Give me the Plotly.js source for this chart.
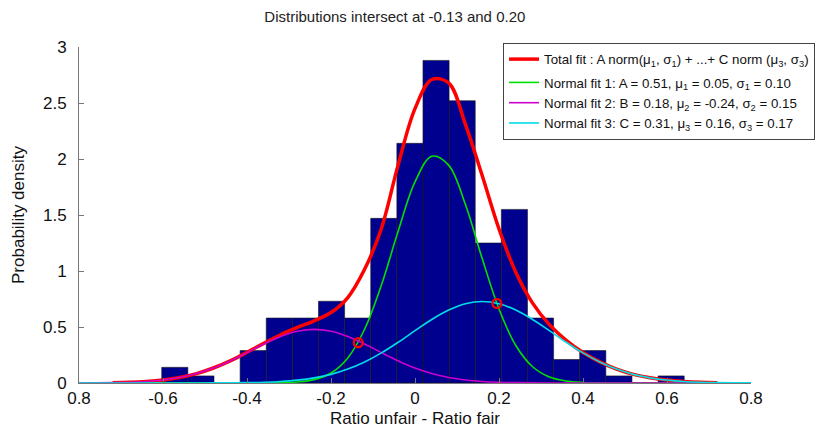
<!DOCTYPE html>
<html>
<head>
<meta charset="utf-8">
<script src="https://cdn.plot.ly/plotly-3.0.1.min.js"></script>
<style>html,body{margin:0;padding:0;background:#fff;}#chart{width:823px;height:431px;}</style>
</head>
<body>
<div id="chart"></div>
<script>
// Histogram (bin centers and probability densities)
var binCenters = [-0.5719,-0.5097,-0.4475,-0.3853,-0.3231,-0.2609,-0.1987,-0.1365,-0.0743,-0.0121,
                  0.0501,0.1123,0.1745,0.2367,0.2989,0.3611,0.4233,0.4855,0.5477,0.6099];
var binDensity = [0.14,0.063,0,0.29,0.58,0.58,0.73,0.58,1.47,2.14,
                  2.88,2.52,1.25,1.55,0.58,0.21,0.29,0.063,0,0.063];
var binWidth = 0.0622;

// Curve sample positions
var curveX = [-0.80,-0.76,-0.72,-0.68,-0.64,-0.60,-0.56,-0.52,-0.48,-0.44,-0.40,-0.36,-0.32,-0.28,-0.24,-0.20,
              -0.16,-0.12,-0.08,-0.04,0.00,0.04,0.08,0.12,0.16,0.20,0.24,0.28,0.32,0.36,0.40,0.44,0.48,0.52,
              0.56,0.60,0.64,0.68,0.72,0.76,0.80];
// Normal fit 1 (green)
var fit1 = [0,0,0,0,0,0,0,0,0,0,0,0,0.002,0.009,0.030,0.089,0.224,0.480,0.874,1.357,1.796,2.025,1.945,1.593,
            1.111,0.661,0.335,0.145,0.053,0.017,0.005,0.001,0,0,0,0,0,0,0,0,0];
// Normal fit 2 (magenta)
var fit2 = [0.000,0.001,0.003,0.007,0.014,0.027,0.049,0.084,0.133,0.197,0.271,0.348,0.415,0.462,0.479,0.462,
            0.415,0.348,0.271,0.197,0.133,0.084,0.049,0.027,0.014,0.007,0.003,0.001,0,0,0,0,0,0,0,0,0,0,0,0,0];
// Normal fit 3 (cyan)
var fit3 = [0,0,0,0,0,0,0,0,0.001,0.001,0.003,0.007,0.014,0.026,0.046,0.077,0.124,0.188,0.269,0.364,0.467,
            0.567,0.651,0.708,0.728,0.708,0.651,0.567,0.467,0.364,0.269,0.188,0.124,0.077,0.046,0.026,0.014,
            0.007,0.003,0.001,0.001];
// Total fit (red), drawn from -0.72 to 0.72
var totalX = curveX.slice(2, 39);
var totalFit = [0.003,0.007,0.014,0.027,0.049,0.084,0.134,0.198,0.274,0.354,0.431,0.496,0.555,0.629,0.763,
                1.015,1.38,1.95,2.45,2.71,2.68,2.31,1.852,1.375,0.989,0.713,0.521,0.381,0.273,0.189,
                0.124,0.077,0.046,0.026,0.014,0.007,0.003];
// Intersection points
var crossX = [-0.135, 0.195];
var crossY = [0.36, 0.71];

var xTickVals = [-0.8,-0.6,-0.4,-0.2,0,0.2,0.4,0.6,0.8];
var xTickText = ['0.8','-0.6','-0.4','-0.2','0','0.2','0.4','0.6','0.8'];
var yTickVals = [0,0.5,1,1.5,2,2.5,3];

var FONT = 'Liberation Sans, Arial, sans-serif';

var traces = [
  {type:'bar', x:binCenters, y:binDensity, width:binWidth, showlegend:false, hoverinfo:'skip',
   marker:{color:'#00008f', line:{color:'#1a1a1a', width:0.6}}},
  {type:'scatter', mode:'lines', x:totalX, y:totalFit, legendgroup:'a',
   name:'Total fit : A norm(μ<sub>1</sub>, σ<sub>1</sub>) + ...+ C norm (μ<sub>3</sub>, σ<sub>3</sub>)',
   line:{color:'#ff0000', width:3.5, shape:'spline', smoothing:1}},
  {type:'scatter', mode:'lines', x:curveX, y:fit1, legendgroup:'b',
   name:'Normal fit 1: A = 0.51, μ<sub>1</sub> = 0.05, σ<sub>1</sub> = 0.10',
   line:{color:'#00e000', width:1.6, shape:'spline', smoothing:1}},
  {type:'scatter', mode:'lines', x:curveX, y:fit2, legendgroup:'b',
   name:'Normal fit 2: B = 0.18, μ<sub>2</sub> = -0.24, σ<sub>2</sub> = 0.15',
   line:{color:'#cc00cc', width:1.6, shape:'spline', smoothing:1}},
  {type:'scatter', mode:'lines', x:curveX, y:fit3, legendgroup:'b',
   name:'Normal fit 3: C = 0.31, μ<sub>3</sub> = 0.16, σ<sub>3</sub> = 0.17',
   line:{color:'#00dde8', width:1.6, shape:'spline', smoothing:1}},
  {type:'scatter', mode:'markers', x:crossX, y:crossY, showlegend:false,
   marker:{symbol:'circle-open', size:9, color:'#ff0000', line:{width:2.2, color:'#ff0000'}}}
];

var layout = {
  width:823, height:431,
  margin:{l:79, r:72, t:47, b:48, autoexpand:false},
  paper_bgcolor:'#fff', plot_bgcolor:'#fff',
  font:{family:FONT, color:'#111'},
  showlegend:true,
  bargap:0,
  title:{text:'Distributions intersect at -0.13 and 0.20', font:{family:FONT, size:15, color:'#222'},
         x:0.47, xref:'paper', xanchor:'center', y:0.96, yref:'container', yanchor:'middle'},
  xaxis:{range:[-0.8,0.8], tickvals:xTickVals, ticktext:xTickText, showgrid:false, zeroline:false,
         showline:true, linecolor:'#777', linewidth:1, ticks:'inside', ticklen:5, tickcolor:'#777',
         tickfont:{size:17, color:'#111'}, automargin:false,
         title:{text:'Ratio unfair - Ratio fair', font:{size:17, color:'#111'}, standoff:4}},
  yaxis:{range:[0,3], tickvals:yTickVals, showgrid:false, zeroline:false,
         showline:true, linecolor:'#777', linewidth:1, ticks:'inside', ticklen:5, tickcolor:'#777',
         tickfont:{size:17, color:'#111'}, ticklabelstandoff:8, automargin:false,
         title:{text:'Probability density', font:{size:17, color:'#111'}, standoff:14}},
  legend:{x:0.631, y:1.012, xanchor:'left', yanchor:'top', bgcolor:'#fff', bordercolor:'#444', borderwidth:1,
          font:{family:FONT, size:13.3, color:'#111'}, traceorder:'grouped', tracegroupgap:3,
          itemwidth:30}
};

Plotly.newPlot('chart', traces, layout, {displayModeBar:false, staticPlot:true});
</script>
</body>
</html>
